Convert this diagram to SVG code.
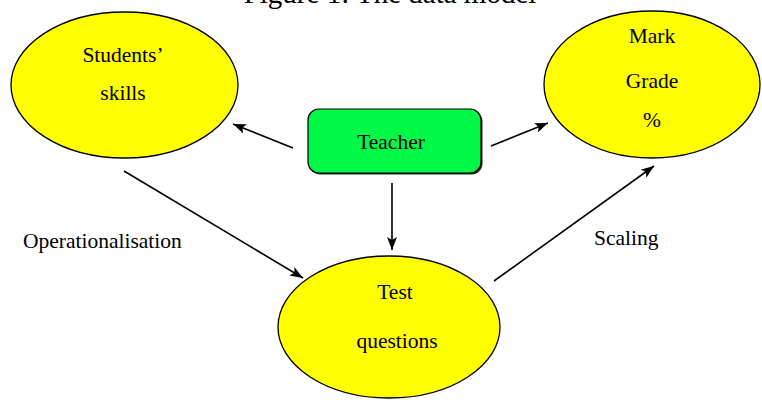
<svg xmlns="http://www.w3.org/2000/svg" width="762" height="400" viewBox="0 0 762 400">
<defs>
<style>
.t{font-family:"Liberation Serif","Times New Roman",serif;font-size:21.5px;fill:#000}
.c{text-anchor:middle}
.ell{fill:#ffff00;stroke:#000;stroke-width:1.3}
.ln{stroke:#000;stroke-width:1.6;fill:none;marker-end:url(#ah)}
</style>
<marker id="ah" markerUnits="userSpaceOnUse" markerWidth="14" markerHeight="10" refX="13" refY="5" orient="auto">
<path d="M0,0 L13,5 L0,10 L3,5 Z" fill="#000"/>
</marker>
</defs>
<rect width="762" height="400" fill="#fff"/>
<text class="t c" x="390" y="3" style="font-size:29px">Figure 1: The data model</text>
<g id="connectors">
<line class="ln" x1="293" y1="148" x2="233" y2="124"/>
<line class="ln" x1="491" y1="146" x2="548" y2="123"/>
<line class="ln" x1="392" y1="183" x2="392" y2="250"/>
<line class="ln" x1="124" y1="171" x2="303" y2="278"/>
<line class="ln" x1="494" y1="281" x2="654" y2="166"/>
</g>
<g id="students">
<ellipse class="ell" cx="124.5" cy="85" rx="113.5" ry="73"/>
<text class="t c" x="123" y="62">Students’</text>
<text class="t c" x="123" y="100">skills</text>
</g>
<g id="mark">
<ellipse class="ell" cx="652" cy="84.5" rx="108" ry="73.5"/>
<text class="t c" x="652" y="43">Mark</text>
<text class="t c" x="652" y="88">Grade</text>
<text class="t c" x="652" y="127">%</text>
</g>
<g id="teacher">
<rect x="309.5" y="110.5" width="173" height="64" rx="11" fill="#222"/>
<rect x="308" y="109" width="173" height="64" rx="11" fill="#00f846" stroke="#000" stroke-width="1.2"/>
<text class="t c" x="391" y="149">Teacher</text>
</g>
<g id="test">
<ellipse class="ell" cx="389" cy="327" rx="111" ry="71"/>
<text class="t c" x="395" y="299">Test</text>
<text class="t c" x="397" y="348">questions</text>
</g>
<g id="labels">
<text class="t" x="23" y="248">Operationalisation</text>
<text class="t" x="594" y="245">Scaling</text>
</g>
</svg>
